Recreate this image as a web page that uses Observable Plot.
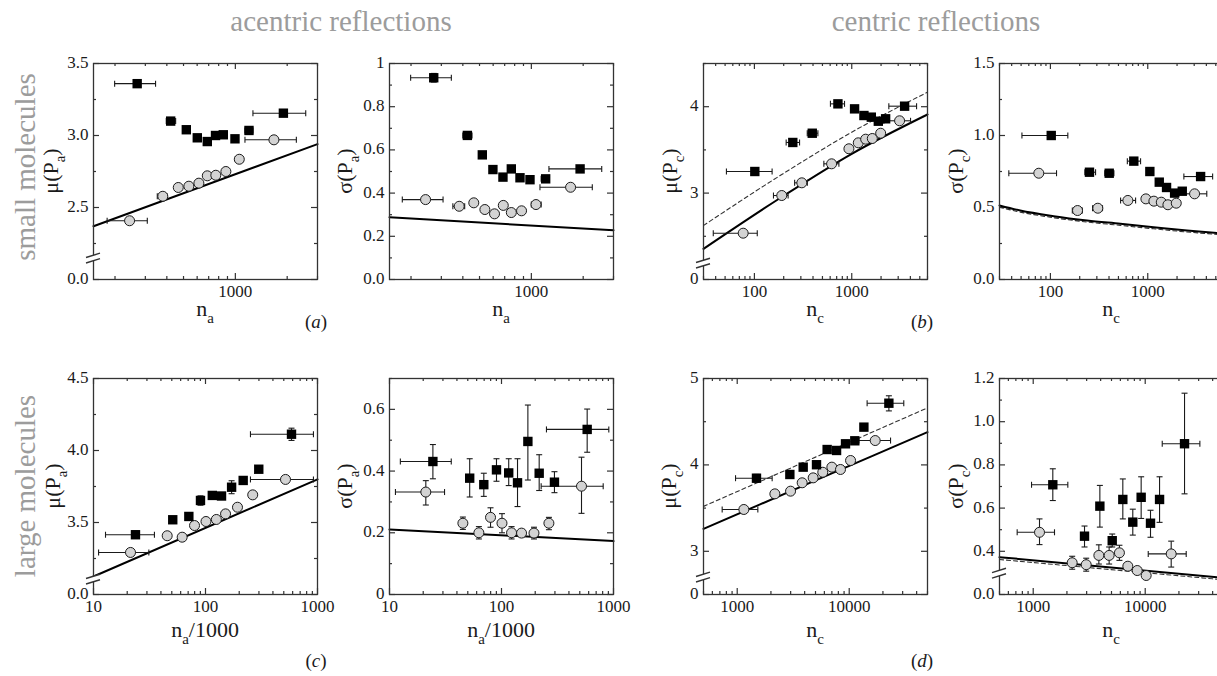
<!DOCTYPE html>
<html><head><meta charset="utf-8">
<script src="https://cdn.jsdelivr.net/npm/d3@7"></script>
<script src="https://cdn.jsdelivr.net/npm/@observablehq/plot@0.6"></script>
<style>
html,body{margin:0;padding:0;background:#fff;overflow:hidden;}
#root{position:relative;width:1217px;height:676px;overflow:hidden;font-family:"Liberation Serif","Times New Roman",Times,"DejaVu Serif",serif;background:#fff;}
.panel{position:absolute;}
.panel svg{max-width:none !important;background:none !important;}
#root text{font-family:"Liberation Serif","Times New Roman",Times,"DejaVu Serif",serif !important;}
</style></head>
<body><div id="root"></div>
<script>
// ---------- DATA: [x, y, xlo, xhi, ylo, yhi] ----------
// (a) small molecules, acentric, mu
const a1Sq = [[269,3.36,199,344],[421,3.10,397,450,3.09,3.11],[519,3.04],[601,2.984],[687,2.958],[767,3.0],[851,3.005],[995,2.977],[1200,3.035,1137,1265],[1901,3.155,1265,2563]];
const a1Ci = [[243,2.408,180,308],[379,2.578,352,401],[466,2.639],[537,2.648],[614,2.669],[687,2.72],[770,2.724],[881,2.75],[1054,2.835,1000,1110],[1675,2.97,1137,2261]];
const a1Solid = [[150,2.37],[3000,2.94]];
// (a) small molecules, acentric, sigma
const a2Sq = [[271,0.934,199,343,0.914,0.954],[425,0.667,400,452,0.652,0.682],[519,0.577,null,null,0.567,0.587],[598,0.509],[684,0.474],[765,0.512],[859,0.471],[982,0.462],[1211,0.466,1140,1270],[1919,0.512,1265,2563]];
const a2Ci = [[243,0.370,178,307],[381,0.339,350,410],[463,0.355],[537,0.324],[611,0.304],[687,0.343],[765,0.310],[877,0.318],[1064,0.347,1000,1140],[1690,0.427,1122,2259]];
const a2Solid = [[150,0.288],[3000,0.228]];
// (b) small molecules, centric, mu
const b1Sq = [[101,3.25,51.6,152],[248,3.586,212,291],[393,3.693,349,449],[721,4.033,604,843],[1069,3.975],[1334,3.898],[1589,3.879],[1875,3.832],[2228,3.86],[3491,4.006,2404,4634]];
const b1Ci = [[76.7,2.536,37.8,107],[191,2.972,157,222],[307,3.119,259,350],[621,3.339,517,738],[935,3.513],[1167,3.582],[1390,3.624],[1626,3.632],[1982,3.693],[3100,3.837,2138,4018]];
const b1Solid = [[30,2.355],[191,2.955],[1000,3.455],[6000,3.91]];
const b1Dashed = [[30,2.625],[191,3.215],[1000,3.705],[6000,4.168]];
// (b) small molecules, centric, sigma
const b2Sq = [[102,1.0,51,151],[252,0.745,226,291],[402,0.738,362,449],[719,0.822,617,844],[1051,0.75],[1313,0.676],[1560,0.639],[1888,0.60],[2262,0.613],[3491,0.715,2350,4640]];
const b2Ci = [[76,0.738,37.4,115.6],[190,0.479,168,213],[307,0.495,271,343],[625,0.549,526,750],[957,0.560],[1156,0.544],[1377,0.537],[1611,0.519],[1963,0.530],[3027,0.595,2085,4040]];
const b2Solid = [[30,0.514],[49,0.479],[108,0.44],[238,0.41],[523,0.387],[1150,0.363],[2530,0.34],[6000,0.319]];
const b2Dashed = [[30,0.502],[49,0.468],[108,0.429],[238,0.399],[523,0.376],[1150,0.352],[2530,0.33],[6000,0.31]];
// (c) large molecules, acentric, mu
const c1Sq = [[23.7,3.415,12.8,35,3.39,3.44],[51,3.519,null,null,3.50,3.54],[71,3.542,null,null,3.525,3.56],[90.2,3.653,null,null,3.62,3.685],[115,3.688,null,null,3.665,3.71],[139,3.684,null,null,3.665,3.705],[171,3.745,null,null,3.70,3.79],[217,3.792,null,null,3.77,3.815],[299,3.87,285,315,3.85,3.89],[586,4.113,252,920,4.07,4.155]];
const c1Ci = [[21.4,3.292,11.1,31.2],[45.5,3.408],[61.9,3.398],[79.8,3.479],[101,3.507],[125,3.521],[151,3.56],[193,3.606],[264,3.692,250,280],[518,3.799,252,920]];
const c1Solid = [[10,3.125],[1000,3.80]];
// (c) large molecules, acentric, sigma
const c2Sq = [[24.4,0.431,12.5,35.6,0.375,0.486],[52,0.377,null,null,0.316,0.44],[69.5,0.356,null,null,0.318,0.393],[90.2,0.404,null,null,0.367,0.44],[116,0.394,null,null,0.353,0.44],[139,0.362,null,null,0.285,0.44],[172,0.496,null,null,0.371,0.614],[217,0.393,null,null,0.337,0.453],[297,0.364,null,null,0.33,0.398],[582,0.535,252,908,0.461,0.601]];
const c2Ci = [[21.1,0.332,11.3,31,0.29,0.369],[45.2,0.231,null,null,0.211,0.251],[62.8,0.20,null,null,0.18,0.22],[79.8,0.25,null,null,0.218,0.281],[101,0.231,null,null,0.20,0.262],[123,0.20,null,null,0.18,0.22],[151,0.199,null,null,0.19,0.21],[195,0.199,null,null,0.18,0.218],[265,0.231,250,280,0.21,0.25],[518,0.351,226,809,0.263,0.445]];
const c2Solid = [[10,0.211],[1000,0.173]];
// (d) large molecules, centric, mu
const d1Sq = [[1486,3.846,966,2051,3.80,3.89],[2951,3.889,null,null,3.86,3.92],[3882,3.974,null,null,3.94,4.01],[5105,4.002,null,null,3.97,4.03],[6353,4.178,null,null,4.14,4.22],[7709,4.167,null,null,4.135,4.20],[9268,4.244,null,null,4.205,4.285],[11220,4.279,null,null,4.25,4.31],[13520,4.437,null,null,4.40,4.475],[22600,4.714,14450,30700,4.625,4.80]];
const d1Ci = [[1146,3.484,734,1528],[2168,3.665],[2994,3.696],[3802,3.793],[4766,3.85],[5808,3.915],[6997,3.974],[8356,3.947],[10280,4.051],[17060,4.282,12190,23390]];
const d1Solid = [[500,3.26],[5000,3.82],[50000,4.38]];
const d1Dashed = [[500,3.52],[5000,4.09],[50000,4.66]];
// (d) large molecules, centric, sigma
const d2Sq = [[1496,0.708,966,2037,0.635,0.782],[2871,0.47,null,null,0.42,0.517],[3936,0.609,null,null,0.512,0.705],[5075,0.449,null,null,0.42,0.48],[6310,0.64,null,null,0.55,0.735],[7745,0.535,null,null,0.475,0.595],[9200,0.65,null,null,0.552,0.745],[11150,0.53,null,null,0.465,0.59],[13430,0.64,null,null,0.534,0.745],[22440,0.898,14190,30760,0.666,1.132]];
const d2Ci = [[1138,0.488,719,1549,0.431,0.55],[2228,0.347,null,null,0.317,0.377],[2972,0.338,null,null,0.308,0.368],[3855,0.381,null,null,0.341,0.43],[4764,0.381,null,null,0.341,0.42],[5885,0.393,null,null,0.358,0.428],[6995,0.331],[8480,0.311],[10200,0.288],[17060,0.388,10640,23230,0.327,0.447]];
const d2Solid = [[500,0.373],[50000,0.277]];
const d2Dashed = [[500,0.362],[50000,0.268]];

// ---------- TICKS / LABELS ----------
const xLabSmallA = [1000];
const xLabSmallC = [100, 1000];
const xLabLargeA = [10, 100, 1000];
const xLabLargeC = [1000, 10000];
const yTicksA1 = [2, 2.5, 3, 3.5],      yLabelsA1 = ["0.0","2.5","3.0","3.5"], yMinorA1 = [2.25, 2.75, 3.25];
const yTicksA2 = [0, 0.2, 0.4, 0.6, 0.8, 1], yLabelsA2 = ["0.0","0.2","0.4","0.6","0.8","1"], yMinorA2 = [0.1,0.3,0.5,0.7,0.9];
const yTicksB1 = [2, 3, 4],             yLabelsB1 = ["0","3","4"], yMinorB1 = [2.5, 3.5, 4.5];
const yTicksB2 = [0, 0.5, 1, 1.5],      yLabelsB2 = ["0.0","0.5","1.0","1.5"], yMinorB2 = [0.25, 0.75, 1.25];
const yTicksC1 = [3, 3.5, 4, 4.5],      yLabelsC1 = ["0.0","3.5","4.0","4.5"], yMinorC1 = [3.25, 3.75, 4.25];
const yTicksC2 = [0, 0.2, 0.4, 0.6],    yLabelsC2 = ["0","0.2","0.4","0.6"], yMinorC2 = [0.1, 0.3, 0.5, 0.7];
const yTicksD1 = [2.5, 3, 4, 5],        yLabelsD1 = ["0","3","4","5"], yMinorD1 = [3.5, 4.5];
const yTicksD2 = [0.2, 0.4, 0.6, 0.8, 1.0, 1.2], yLabelsD2 = ["0.0","0.4","0.6","0.8","1.0","1.2"], yMinorD2 = [0.3,0.5,0.7,0.9,1.1];

// ---------- LAYOUT ----------
const FONT = "'Liberation Serif', 'Times New Roman', Times, 'DejaVu Serif', serif";
const FW = 224, FH = 216;
const M = {left: 50, right: 12, top: 10, bottom: 32};
const PANELS = [
  {left:93,  top:63,  xDomain:[150,3000],  yDomain:[2,3.5],   xLab:xLabSmallA, yT:yTicksA1, yL:yLabelsA1, yM:yMinorA1, brk:2.146, sq:a1Sq, ci:a1Ci, solid:a1Solid, dashed:null},
  {left:389, top:63,  xDomain:[150,3000],  yDomain:[0,1],     xLab:xLabSmallA, yT:yTicksA2, yL:yLabelsA2, yM:yMinorA2, brk:null,  sq:a2Sq, ci:a2Ci, solid:a2Solid, dashed:null},
  {left:703, top:63,  xDomain:[30,6000],   yDomain:[2,4.5],   xLab:xLabSmallC, yT:yTicksB1, yL:yLabelsB1, yM:yMinorB1, brk:2.185, sq:b1Sq, ci:b1Ci, solid:b1Solid, dashed:b1Dashed},
  {left:999, top:63,  xDomain:[30,6000],   yDomain:[0,1.5],   xLab:xLabSmallC, yT:yTicksB2, yL:yLabelsB2, yM:yMinorB2, brk:null,  sq:b2Sq, ci:b2Ci, solid:b2Solid, dashed:b2Dashed},
  {left:93,  top:378, xDomain:[10,1000],   yDomain:[3,4.5],   xLab:xLabLargeA, yT:yTicksC1, yL:yLabelsC1, yM:yMinorC1, brk:3.104, sq:c1Sq, ci:c1Ci, solid:c1Solid, dashed:null},
  {left:389, top:378, xDomain:[10,1000],   yDomain:[0,0.7],   xLab:xLabLargeA, yT:yTicksC2, yL:yLabelsC2, yM:yMinorC2, brk:null,  sq:c2Sq, ci:c2Ci, solid:c2Solid, dashed:null},
  {left:703, top:378, xDomain:[500,50000], yDomain:[2.5,5],   xLab:xLabLargeC, yT:yTicksD1, yL:yLabelsD1, yM:yMinorD1, brk:2.697, sq:d1Sq, ci:d1Ci, solid:d1Solid, dashed:d1Dashed},
  {left:999, top:378, xDomain:[500,50000], yDomain:[0.2,1.2], xLab:xLabLargeC, yT:yTicksD2, yL:yLabelsD2, yM:yMinorD2, brk:0.297, sq:d2Sq, ci:d2Ci, solid:d2Solid, dashed:d2Dashed}
];

const INK = "#1a1a1a";
const toObj = r => ({x:r[0], y:r[1], xlo:r[2] ?? null, xhi:r[3] ?? null, ylo:r[4] ?? null, yhi:r[5] ?? null});
const vbar = {draw(ctx, size){ const h = Math.sqrt(size/Math.PI); ctx.moveTo(0,-h); ctx.lineTo(0,h); }};
const hbar = {draw(ctx, size){ const h = Math.sqrt(size/Math.PI); ctx.moveTo(-h,0); ctx.lineTo(h,0); }};

function errMarks(pts){
  const hx = pts.filter(d => d.xlo != null), vy = pts.filter(d => d.ylo != null);
  const s = {stroke: INK, strokeWidth: 1.1};
  return [
    Plot.link(hx, {x1:"xlo", x2:"xhi", y1:"y", y2:"y", ...s}),
    Plot.dot(hx, {x:"xlo", y:"y", symbol:vbar, r:3, fill:"none", ...s}),
    Plot.dot(hx, {x:"xhi", y:"y", symbol:vbar, r:3, fill:"none", ...s}),
    Plot.link(vy, {x1:"x", x2:"x", y1:"ylo", y2:"yhi", ...s}),
    Plot.dot(vy, {x:"x", y:"ylo", symbol:hbar, r:3, fill:"none", ...s}),
    Plot.dot(vy, {x:"x", y:"yhi", symbol:hbar, r:3, fill:"none", ...s})
  ];
}

function breakMark(yv){
  return (index, scales, values, dims) => {
    const g = d3.create("svg:g");
    const x0 = dims.marginLeft, y0 = scales.y(yv);
    const a = -0.5, b = -4.8, gap = 5.5;
    g.append("path")
      .attr("d", `M${x0-7},${y0+a} L${x0+7},${y0+b} L${x0+7},${y0+b+gap} L${x0-7},${y0+a+gap} Z`)
      .attr("fill", "#fff");
    for (const off of [0, gap]) {
      g.append("line").attr("x1", x0-7).attr("y1", y0+a+off).attr("x2", x0+7).attr("y2", y0+b+off)
        .attr("stroke", "#333").attr("stroke-width", 1.4);
    }
    return g.node();
  };
}

function tickMarks(xMajor, xMinor, yMajor, yMinor){
  const s = {stroke:"#333", strokeWidth:1.2};
  return [
    Plot.tickX(xMinor, {x:d=>d, insetTop:FH-3, ...s}),
    Plot.tickX(xMinor, {x:d=>d, insetBottom:FH-3, ...s}),
    Plot.tickX(xMajor, {x:d=>d, insetTop:FH-6, ...s}),
    Plot.tickX(xMajor, {x:d=>d, insetBottom:FH-6, ...s}),
    Plot.tickY(yMinor, {y:d=>d, insetRight:FW-3, ...s}),
    Plot.tickY(yMinor, {y:d=>d, insetLeft:FW-3, ...s}),
    Plot.tickY(yMajor, {y:d=>d, insetRight:FW-6, ...s}),
    Plot.tickY(yMajor, {y:d=>d, insetLeft:FW-6, ...s})
  ];
}

const root = document.getElementById("root");
for (const p of PANELS) {
  const sq = p.sq.map(toObj), ci = p.ci.map(toObj);
  const allT = d3.scaleLog().domain(p.xDomain).ticks();
  const isPow = v => Math.abs(Math.log10(v) - Math.round(Math.log10(v))) < 1e-9;
  const xMajor = allT.filter(isPow), xMinor = allT.filter(v => !isPow(v));
  const marks = [
    ...tickMarks(xMajor, xMinor, p.yT, p.yM),
    Plot.text(p.xLab, {x:d=>d, frameAnchor:"bottom", lineAnchor:"top", dy:5, text:d=>String(d), fontSize:17, fill:INK, fontFamily:FONT}),
    Plot.text(p.yT, {y:d=>d, frameAnchor:"left", textAnchor:"end", dx:-5, dy:-1, text:(d,i)=>p.yL[i], fontSize:17, fill:INK, fontFamily:FONT}),
    p.dashed ? Plot.line(p.dashed, {x:d=>d[0], y:d=>d[1], stroke:"#333", strokeWidth:1.1, strokeDasharray:"4,3", curve:"monotone-x"}) : null,
    Plot.line(p.solid, {x:d=>d[0], y:d=>d[1], stroke:"#000", strokeWidth:2, curve:"monotone-x"}),
    ...errMarks(sq.concat(ci)),
    Plot.dot(ci, {x:"x", y:"y", r:5, fill:"#d3d3d3", stroke:INK, strokeWidth:1}),
    Plot.dot(sq, {x:"x", y:"y", symbol:"square", r:5.3, fill:"#000", stroke:"none"}),
    Plot.frame({stroke:"#333", strokeWidth:1.3}),
    p.brk != null ? breakMark(p.brk) : null
  ].filter(Boolean);
  const svg = Plot.plot({
    width: FW + M.left + M.right, height: FH + M.top + M.bottom,
    marginLeft: M.left, marginRight: M.right, marginTop: M.top, marginBottom: M.bottom,
    x: {type:"log", domain:p.xDomain, axis:null},
    y: {type:"linear", domain:p.yDomain, axis:null},
    style: {fontFamily:FONT, fontSize:"17px", overflow:"visible", background:"none"},
    marks
  });
  const div = document.createElement("div");
  div.className = "panel";
  div.style.left = (p.left - M.left) + "px";
  div.style.top = (p.top - M.top) + "px";
  div.style.width = (FW + M.left + M.right) + "px";
  div.style.height = (FH + M.top + M.bottom) + "px";
  div.appendChild(svg);
  root.appendChild(div);
}

// ---------- annotation text ----------
const ov = d3.select(root).append("svg")
  .attr("width", 1217).attr("height", 676)
  .style("position", "absolute").style("left", 0).style("top", 0).style("pointer-events", "none")
  .style("font-family", FONT);

function label(x, y, parts, size, opts = {}) {
  const g = ov.append("g").attr("transform", `translate(${x},${y})` + (opts.rotate ? " rotate(-90)" : ""));
  const t = g.append("text").attr("text-anchor", "middle").attr("font-size", size)
    .attr("fill", opts.fill || INK).style("font-family", FONT);
  let shifted = 0;
  for (const part of parts) {
    const ts = t.append("tspan").text(part.t);
    if (part.sub) { ts.attr("font-size", size * 0.68).attr("dy", size * 0.32 - shifted); shifted = size * 0.32; }
    else if (shifted) { ts.attr("dy", -shifted); shifted = 0; }
    if (part.it) ts.attr("font-style", "italic");
  }
}
const GRAY = "#9c9c9c";
label(341, 31, [{t:"acentric reflections"}], 29, {fill:GRAY});
label(936, 31, [{t:"centric reflections"}], 29, {fill:GRAY});
label(35, 167, [{t:"small molecules"}], 29, {fill:GRAY, rotate:true});
label(35, 486, [{t:"large molecules"}], 29, {fill:GRAY, rotate:true});

const yTitles = [
  [58, 171, "μ(P", "a"], [352, 171, "σ(P", "a"], [677, 171, "μ(P", "c"], [963, 171, "σ(P", "c"],
  [60, 486, "μ(P", "a"], [352, 486, "σ(P", "a"], [676, 486, "μ(P", "c"], [963, 486, "σ(P", "c"]
];
for (const [x, y, m, s] of yTitles) label(x, y, [{t:m}, {t:s, sub:true}, {t:")"}], 22, {rotate:true});

const xTitles = [
  [205, 316, "a", ""], [501, 316, "a", ""], [815, 316, "c", ""], [1111, 316, "c", ""],
  [205, 637, "a", "/1000"], [501, 637, "a", "/1000"], [815, 637, "c", ""], [1111, 637, "c", ""]
];
for (const [x, y, s, tail] of xTitles) {
  const parts = [{t:"n"}, {t:s, sub:true}];
  if (tail) parts.push({t:tail});
  label(x, y, parts, 22);
}

const letters = [[316, 328, "a"], [922, 328, "b"], [316, 667, "c"], [922, 667, "d"]];
for (const [x, y, l] of letters) label(x, y, [{t:"("}, {t:l, it:true}, {t:")"}], 19);
</script>
</body></html>
